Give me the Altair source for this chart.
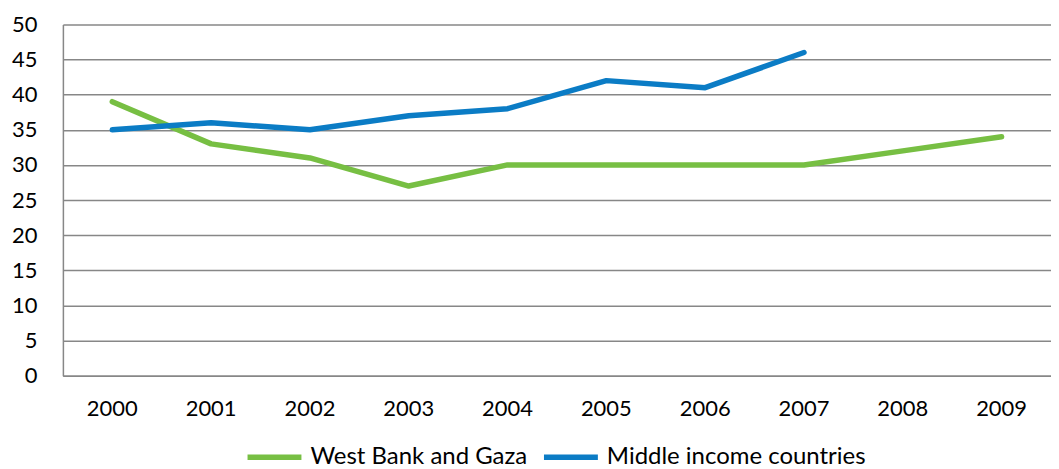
import altair as alt
import pandas as pd

years = ["2000", "2001", "2002", "2003", "2004", "2005", "2006", "2007", "2008", "2009"]
wbg = [39, 33, 31, 27, 30, 30, 30, 30, 32, 34]
mic = [35, 36, 35, 37, 38, 42, 41, 46]
series_names = ["West Bank and Gaza", "Middle income countries"]
colors = ["#77BF43", "#0B7CC5"]

rows = []
for y, v in zip(years, wbg):
    rows.append({"year": y, "value": v, "series": series_names[0]})
for y, v in zip(years, mic):
    rows.append({"year": y, "value": v, "series": series_names[1]})
df = pd.DataFrame(rows)

font = "Lato"

chart = alt.Chart(df).mark_line(strokeWidth=5.5, strokeCap="round", strokeJoin="round").encode(
    x=alt.X("year:N", sort=years, scale=alt.Scale(paddingInner=0, paddingOuter=0, type="band"),
            axis=alt.Axis(title=None, labelAngle=0, ticks=False, labelPadding=23, grid=False,
                          domainColor="#878787", domainWidth=1.5)),
    y=alt.Y("value:Q", scale=alt.Scale(domain=[0, 50], nice=False),
            axis=alt.Axis(title=None, values=list(range(0, 51, 5)), ticks=False, labelPadding=26,
                          gridColor="#878787", gridWidth=1.5, domainColor="#878787", domainWidth=1.5)),
    color=alt.Color("series:N", sort=series_names,
                    scale=alt.Scale(domain=series_names, range=colors),
                    legend=alt.Legend(title=None, orient="none", direction="horizontal",
                                      legendX=182, legendY=417,
                                      symbolType="M-1,0H3", symbolSize=729,
                                      symbolStrokeWidth=5.5, labelOffset=33,
                                      columnPadding=5, padding=0)),
).properties(
    width=990, height=352,
    autosize=alt.AutoSizeParams(type="none"),
    padding={"left": 55, "top": 16, "right": 0, "bottom": 92},
).configure_view(stroke=None).configure_axis(
    labelFont=font, labelFontSize=22, labelColor="#000000"
).configure_legend(
    labelFont=font, labelFontSize=24, labelColor="#000000", labelLimit=400
)

chart.save("out.html", embed_options={"renderer": "svg", "actions": False})
